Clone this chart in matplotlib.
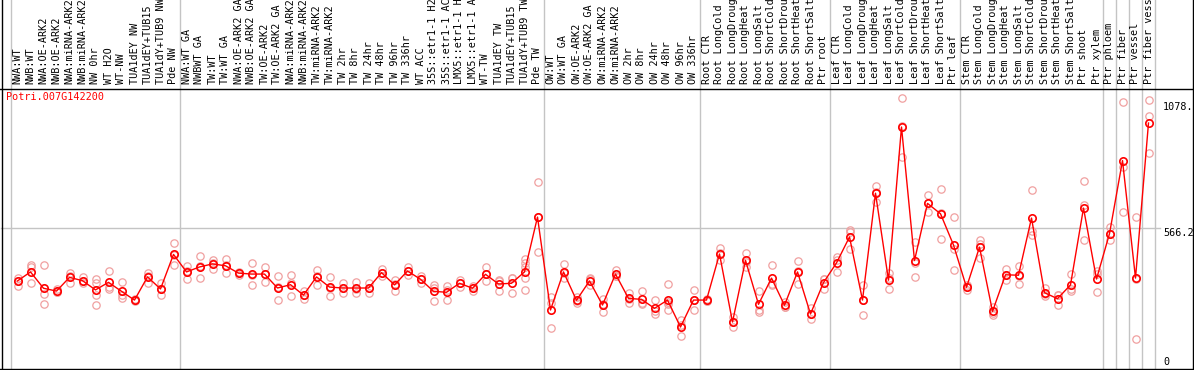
import matplotlib
matplotlib.use("Agg")
import matplotlib.pyplot as plt
from matplotlib.lines import Line2D
import matplotlib.transforms as mtransforms

title = "Potri.007G142200"

labels = [
    "NWA:WT", "NWB:WT", "NWA:OE-ARK2", "NWB:OE-ARK2", "NWA:miRNA-ARK2", "NWB:miRNA-ARK2",
    "NW 0hr", "WT H2O", "WT-NW", "TUA1dEY NW", "TUA1dEY+TUB15", "TUA1dY+TUB9 NW", "Pde NW",
    "NWA:WT GA", "NWBWT GA", "TW:WT", "TW:WT GA", "NWA:OE-ARK2 GA", "NWB:OE-ARK2 GA",
    "TW:OE-ARK2", "TW:OE-ARK2 GA", "NWA:miRNA-ARK2", "NWB:miRNA-ARK2", "TW:miRNA-ARK2",
    "TW:miRNA-ARK2", "TW 2hr", "TW 8hr", "TW 24hr", "TW 48hr", "TW 96hr", "TW 336hr",
    "WT ACC", "35S::etr1-1 H2", "35S::etr1-1 AC", "LMX5::etr1-1 H", "LMX5::etr1-1 A",
    "WT-TW", "TUA1dEY TW", "TUA1dEY+TUB15", "TUA1dY+TUB9 TW", "Pde TW",
    "OW:WT", "OW:WT GA", "OW:OE-ARK2", "OW:OE-ARK2 GA", "OW:miRNA-ARK2", "OW:miRNA-ARK2",
    "OW 2hr", "OW 8hr", "OW 24hr", "OW 48hr", "OW 96hr", "OW 336hr",
    "Root CTR", "Root LongCold", "Root LongDroug", "Root LongHeat", "Root LongSalt",
    "Root ShortCold", "Root ShortDrou", "Root ShortHeat", "Root ShortSalt", "Ptr root",
    "Leaf CTR", "Leaf LongCold", "Leaf LongDroug", "Leaf LongHeat", "Leaf LongSalt",
    "Leaf ShortCold", "Leaf ShortDrou", "Leaf ShortHeat", "Leaf ShortSalt", "Ptr leaf",
    "Stem CTR", "Stem LongCold", "Stem LongDroug", "Stem LongHeat", "Stem LongSalt",
    "Stem ShortCold", "Stem ShortDrou", "Stem ShortHeat", "Stem ShortSalt", "Ptr shoot",
    "Ptr xylem", "Ptr phloem", "Ptr fiber", "Ptr vessel", "Ptr fiber vess",
]

group_sizes = [13, 28, 12, 10, 10, 11, 1, 1, 1, 1]

means = [
    343, 381, 312, 300, 358, 344, 305, 337, 299, 262, 360, 309, 455,
    381, 402, 415, 407, 376, 372, 372, 313, 327, 283, 360, 317, 313, 313, 313,
    378, 326, 385, 350, 299, 295, 333, 312, 371, 330, 333, 381, 613,
    220, 381, 261, 343, 241, 372, 269, 265, 227, 262, 148, 262,
    262, 457, 169, 430, 244, 355, 240, 381, 203, 336,
    419, 529, 262, 714, 346, 994, 429, 671, 627, 495,
    316, 486, 214, 369, 367, 609, 293, 268, 326, 651, 351,
    543, 852, 355, 1011,
]

replicates = [
    [355, 321, 343], [410, 403, 333], [410, 288, 245], [307, 296, 298], [378, 333, 362],
    [358, 333, 342], [352, 333, 282, 240], [384, 316, 310], [338, 282, 272], [265, 258, 262],
    [378, 335, 365], [335, 310, 283], [502, 410, 452],
    [406, 352, 385], [448, 354, 404], [431, 395, 419], [437, 375, 409], [382, 370, 376],
    [420, 327, 369], [403, 340, 373], [362, 261, 316], [369, 279, 333], [300, 265, 284],
    [389, 327, 364], [361, 278, 312], [333, 291, 315], [340, 291, 308], [333, 291, 315],
    [392, 365, 377], [347, 302, 329], [403, 368, 384], [364, 336, 350], [326, 258, 313],
    [321, 261, 303], [347, 316, 336], [320, 302, 314], [400, 341, 372], [347, 302, 341],
    [354, 291, 354], [434, 420, 403, 354, 305], [760, 465, 614],
    [276, 143, 248], [413, 354, 376], [276, 250, 258], [354, 326, 349], [266, 213, 244],
    [389, 365, 362], [291, 251, 265], [300, 250, 245], [262, 202, 217], [329, 244, 220, 255],
    [178, 109, 157], [305, 220, 261],
    [268, 258, 260], [481, 431, 459], [189, 147, 171], [462, 403, 425], [302, 213, 220],
    [410, 326, 329], [255, 234, 231], [426, 330, 387], [227, 181, 201], [350, 308, 350],
    [446, 379, 432], [558, 479, 550], [326, 198, 262], [745, 678, 719], [375, 308, 355],
    [1118, 866, 998], [509, 358, 420], [706, 635, 672], [732, 519, 630], [615, 389, 480],
    [326, 305, 317], [517, 440, 500], [233, 200, 209], [393, 348, 366], [408, 330, 363],
    [726, 553, 539], [313, 279, 287], [282, 240, 282], [372, 299, 307], [764, 665, 517],
    [384, 296, 373], [570, 517, 542], [1100, 825, 633], [613, 99, 353], [1107, 1041, 884],
]

tick_values = [0, 566.2, 1078.]
tick_texts = ["0", "566.2", "1078."]

W, H = 1194, 370
fig = plt.figure(figsize=(W / 100, H / 100), dpi=100)
x0, x1, y_top, y_bot = 11, 1155, 88, 369
ax = fig.add_axes([x0 / W, 1 - y_bot / H, (x1 - x0) / W, (y_bot - y_top) / H])
n = len(labels)
ax.set_xlim(-0.5, n - 0.5)
scale = 0.2364  # px per unit
ax.set_ylim(-(y_bot - 362) / scale, (362 - y_top) / scale)
for s in ax.spines.values():
    s.set_visible(False)
ax.set_xticks([])
ax.set_yticks([])

mono = "DejaVu Sans Mono"
fs = 7.3
grid_c = "#c4c4c4"
ax_h = y_bot - y_top

# group separators (extend into label area)
bounds = [-0.5]
acc = 0
for g in group_sizes:
    acc += g
    bounds.append(acc - 0.5)
for b in bounds:
    ax.axvline(b, ymin=0, ymax=y_bot / ax_h, color=grid_c, lw=1.0, clip_on=False, zorder=1)

# horizontal grid line
ax.axhline(566.2, xmin=-(x0 - 1) / (x1 - x0), xmax=1 + 5 / (x1 - x0), color=grid_c, lw=1.0,
           clip_on=False, zorder=1)

# replicate points
for i, reps in enumerate(replicates):
    ax.plot([i] * len(reps), reps, linestyle="none", marker="o", ms=5.3, mfc="none",
            mec="#f0a0a0", mew=0.9, zorder=2, clip_on=False)

# mean line
xs = list(range(n))
ax.plot(xs, means, color="#ff0000", lw=1.0, zorder=3)
ax.plot(xs, means, linestyle="none", marker="o", ms=5.3, mfc="none", mec="#ff0000",
        mew=1.2, zorder=4)

# labels
trans = mtransforms.blended_transform_factory(ax.transData, ax.transAxes)
for i, lab in enumerate(labels):
    ax.text(i, 1 + 4 / ax_h, lab, transform=trans, rotation=90, ha="center", va="bottom",
            family=mono, fontsize=fs, color="black")

# y value labels
transy = mtransforms.blended_transform_factory(ax.transAxes, ax.transData)
vas = ["center", "top", "center"]
for v, t, va in zip(tick_values, tick_texts, vas):
    ax.text(1 + 8 / (x1 - x0), v, t, transform=transy, ha="left", va=va, family=mono,
            fontsize=fs, color="black")

# title
ax.text(6 / W, 1 - 97 / H, title, transform=fig.transFigure, ha="left", va="center",
        family=mono, fontsize=fs, color="#ff0000")

# frame lines
fig.add_artist(Line2D([0, 1], [1 - 88.5 / H] * 2, transform=fig.transFigure, color="black", lw=1.0))
fig.add_artist(Line2D([1.5 / W] * 2, [0, 1], transform=fig.transFigure, color="black", lw=1.0))
fig.add_artist(Line2D([1192.5 / W] * 2, [0, 1], transform=fig.transFigure, color="black", lw=1.0))
fig.add_artist(Line2D([0, 1], [1.5 / H] * 2, transform=fig.transFigure, color="black", lw=1.0))

fig.savefig("out.png", dpi=100)
